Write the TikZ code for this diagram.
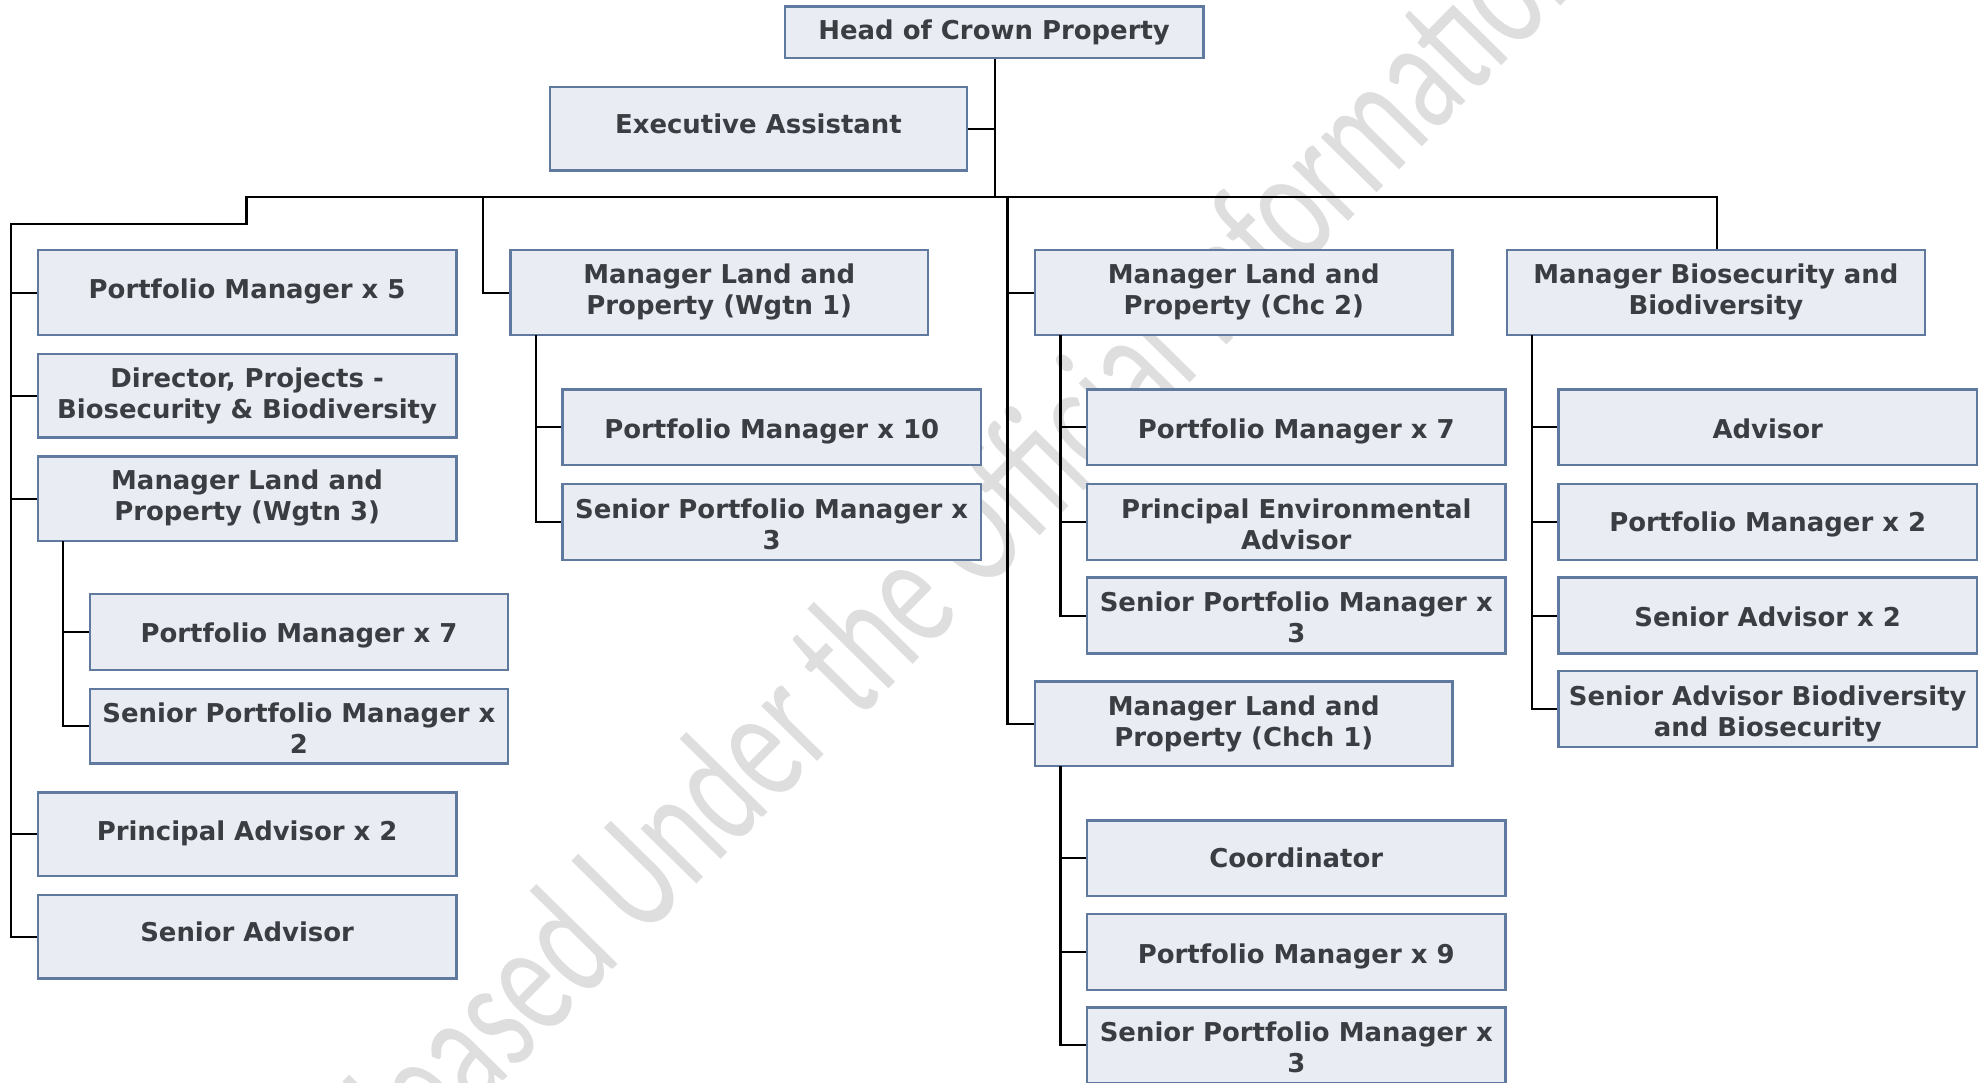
\documentclass[tikz,border=0pt]{standalone}
\usepackage{fontspec}
\setmainfont{DejaVu Sans}
\newfontfamily\wmfont[FakeStretch=0.68]{Carlito}
\usetikzlibrary{positioning,calc}
\definecolor{boxfill}{HTML}{E9ECF2}
\definecolor{boxline}{HTML}{5F7A9E}
\definecolor{txt}{HTML}{3A3D42}
\definecolor{wm}{HTML}{DEDEDE}
\tikzset{
  conn/.style={draw=black,line width=1.6pt},
}
\newcommand{\orgbox}[7]{%
  \node[draw=boxline,fill=boxfill,line width=1.8pt,inner sep=0pt,
    minimum width={(#4-#2)*0.948pt},minimum height={(#5-#3)*0.948pt},
    label={[text=txt,font=\fontsize{19.45}{23.3}\selectfont\bfseries,align=center,inner sep=0pt,yshift={#7*-0.948pt}]center:#6}]
    (#1) at ({(#2+#4)/2},{(#3+#5)/2}) {};}
\begin{document}
\begin{tikzpicture}[x=0.948pt,y=-0.948pt]
\useasboundingbox (0,0) rectangle (1568,856);
\node[text=wm,font=\wmfont\fontsize{123}{123}\selectfont,rotate=45.5,anchor=base west,inner sep=0pt] (mark) at (268,988) {Released Under the Official Information Act};
\orgbox{head}{621}{5}{952}{46}{Head of Crown Property}{0}
\orgbox{ea}{435}{69}{765}{135}{Executive Assistant}{-4}
\orgbox{pmfive}{30}{198}{361}{265}{Portfolio Manager x 5}{-1}
\orgbox{dir}{30}{280}{361}{346}{Director, Projects -\\Biosecurity \& Biodiversity}{0.5}
\orgbox{wthree}{30}{361}{361}{428}{Manager Land and\\Property (Wgtn 3)}{-0.5}
\orgbox{pmseven}{71}{470}{402}{530}{Portfolio Manager x 7}{3}
\orgbox{spmtwo}{71}{545}{402}{604}{Senior Portfolio Manager x\\2}{1.5}
\orgbox{patwo}{30}{627}{361}{693}{Principal Advisor x 2}{-1}
\orgbox{sa}{30}{708}{361}{774}{Senior Advisor}{-4}
\orgbox{wone}{404}{198}{734}{265}{Manager Land and\\Property (Wgtn 1)}{-0.5}
\orgbox{pmten}{445}{308}{776}{368}{Portfolio Manager x 10}{3}
\orgbox{spmthree}{445}{383}{776}{443}{Senior Portfolio Manager x\\3}{1.5}
\orgbox{chctwo}{819}{198}{1149}{265}{Manager Land and\\Property (Chc 2)}{-0.5}
\orgbox{pmsevenb}{860}{308}{1191}{368}{Portfolio Manager x 7}{3}
\orgbox{pea}{860}{383}{1191}{443}{Principal Environmental\\Advisor}{1.5}
\orgbox{spmthreeb}{860}{457}{1191}{517}{Senior Portfolio Manager x\\3}{1.5}
\orgbox{chchone}{819}{539}{1149}{606}{Manager Land and\\Property (Chch 1)}{0}
\orgbox{coord}{860}{649}{1191}{709}{Coordinator}{0}
\orgbox{pmnine}{860}{723}{1191}{783}{Portfolio Manager x 9}{4}
\orgbox{spmthreec}{860}{797}{1191}{857}{Senior Portfolio Manager x\\3}{1.5}
\orgbox{mbb}{1192}{198}{1523}{265}{Manager Biosecurity and\\Biodiversity}{-0.5}
\orgbox{adv}{1233}{308}{1564}{368}{Advisor}{1}
\orgbox{pmtwo}{1233}{383}{1564}{443}{Portfolio Manager x 2}{2}
\orgbox{satwo}{1233}{457}{1564}{517}{Senior Advisor x 2}{1}
\orgbox{sabb}{1233}{531}{1564}{591}{Senior Advisor Biodiversity\\and Biosecurity}{3.5}
% junctions
\coordinate (hub) at (787,156);
\coordinate (busl) at (195,156);
\coordinate (busm) at (382,156);
\coordinate (busc) at (797,156);
\coordinate (busr) at (1358,156);
\coordinate (stepm) at (9,177);
\coordinate (stepa) at (195,177);
\coordinate (wthreedrop) at (50,428);
\coordinate (wonedrop) at (424,265);
\coordinate (chctwodrop) at (839,265);
\coordinate (chchonedrop) at (839,606);
\coordinate (mbbdrop) at (1212,265);
% connectors
\draw[conn] (head.south -| hub) -- (hub);
\draw[conn] (ea.east) -- (ea.east -| hub);
\draw[conn] (stepm |- sa.west) -- (stepm) -- (stepa) -- (busl) -- (busr) -- (mbb.north -| busr);
\draw[conn] (busm) |- (wone.west);
\draw[conn] (busc) |- (chchone.west);
\draw[conn] (busc |- chctwo.west) -- (chctwo.west);
\draw[conn] (stepm) |- (sa.west);
\foreach \n in {pmfive,dir,wthree,patwo}{\draw[conn] (stepm |- \n.west) -- (\n.west);}
\draw[conn] (wthreedrop) |- (spmtwo.west);
\draw[conn] (wthreedrop |- pmseven.west) -- (pmseven.west);
\draw[conn] (wonedrop) |- (spmthree.west);
\draw[conn] (wonedrop |- pmten.west) -- (pmten.west);
\draw[conn] (chctwodrop) |- (spmthreeb.west);
\foreach \n in {pmsevenb,pea}{\draw[conn] (chctwodrop |- \n.west) -- (\n.west);}
\draw[conn] (chchonedrop) |- (spmthreec.west);
\foreach \n in {coord,pmnine}{\draw[conn] (chchonedrop |- \n.west) -- (\n.west);}
\draw[conn] (mbbdrop) |- (sabb.west);
\foreach \n in {adv,pmtwo,satwo}{\draw[conn] (mbbdrop |- \n.west) -- (\n.west);}
\end{tikzpicture}
\end{document}
